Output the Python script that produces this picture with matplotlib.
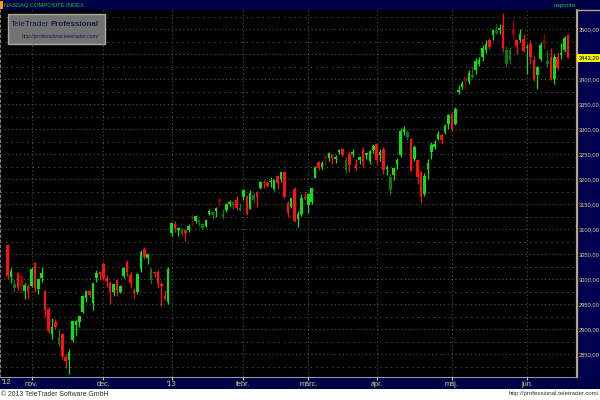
import matplotlib
matplotlib.use("Agg")
import matplotlib.pyplot as plt
import matplotlib.transforms as mtransforms
from matplotlib.patches import Rectangle
from matplotlib import font_manager
import numpy as np
import pandas as pd

# ---------------- data (NASDAQ Composite, daily OHLC) ----------------
holidays = ['2012-10-29', '2012-10-30', '2012-11-22', '2012-12-25', '2013-01-01',
            '2013-01-21', '2013-02-18', '2013-03-29', '2013-05-27']
dates = pd.bdate_range('2012-10-19', '2013-06-19', freq='C', holidays=holidays)

open_oct = [3068, 3005, 2983, 3012, 3007, 2976, 2987]
high_oct = [3070, 3023, 3001, 3015, 3009, 2993, 2990]
low_oct = [3000, 2993, 2975, 2978, 2975, 2961, 2960]
close_oct = [3005.62, 3016.96, 2990.46, 2981.70, 2986.12, 2987.95, 2977.23]

open_nov = [2987, 3032, 2980, 3003, 2977, 2941, 2890, 2915, 2871, 2890, 2845, 2838, 2878, 2908,
            2914, 2935, 2962, 2976, 2953, 3003, 3014]
high_nov = [3025, 3035, 3001, 3025, 2979, 2945, 2922, 2920, 2900, 2893, 2850, 2861, 2917, 2918,
            2927, 2968, 2978, 2980, 2992, 3018, 3016]
low_nov = [2985, 2975, 2970, 2995, 2925, 2893, 2880, 2900, 2866, 2840, 2822, 2811, 2875, 2888,
           2905, 2933, 2955, 2965, 2938, 2995, 2998]
close_nov = [3020.06, 2982.13, 2999.66, 3011.93, 2937.29, 2895.58, 2904.87, 2904.26, 2883.89,
             2846.81, 2836.94, 2853.13, 2916.07, 2916.68, 2926.55, 2966.85, 2976.78, 2967.79,
             2991.78, 3012.03, 3010.24]

open_dec = [3031, 3002, 2993, 2975, 2999, 2975, 3006, 3035, 3008, 2978, 2975, 3021, 3061, 3043,
            2998, 3015, 3015, 2991, 2966, 2955]
high_dec = [3034, 3008, 2997, 2992, 3000, 2988, 3025, 3038, 3015, 2983, 3012, 3058, 3064, 3051,
            3023, 3017, 3018, 2995, 2978, 3025]
low_dec = [2998, 2985, 2950, 2966, 2966, 2972, 3002, 3006, 2985, 2962, 2970, 3015, 3040, 3030,
           2990, 3005, 2982, 2946, 2958, 2950]
close_dec = [3002.20, 2996.69, 2973.70, 2989.27, 2978.04, 2986.96, 3022.30, 3013.81, 2992.16,
             2971.33, 3010.60, 3054.53, 3044.36, 3050.39, 3021.01, 3012.60, 2990.16, 2985.91,
             2960.31, 3019.51]

open_jan = [3092, 3110, 3098, 3090, 3098, 3098, 3127, 3116, 3114, 3102, 3106, 3130, 3128, 3137,
            3160, 3125, 3138, 3150, 3148, 3158, 3138]
high_jan = [3113, 3116, 3105, 3102, 3100, 3110, 3130, 3128, 3121, 3113, 3120, 3141, 3135, 3144,
            3162, 3140, 3152, 3158, 3157, 3166, 3152]
low_jan = [3086, 3094, 3086, 3086, 3076, 3094, 3106, 3112, 3107, 3098, 3105, 3128, 3121, 3125,
           3145, 3120, 3135, 3146, 3140, 3138, 3136]
close_jan = [3112.26, 3100.57, 3101.66, 3098.81, 3091.81, 3105.81, 3121.76, 3125.63, 3117.50,
             3110.78, 3117.54, 3136.00, 3134.71, 3143.18, 3153.67, 3130.38, 3149.71, 3154.30,
             3153.66, 3142.31, 3142.13]

open_feb = [3164, 3164, 3141, 3159, 3174, 3182, 3195, 3192, 3194, 3180, 3206, 3200, 3214, 3152,
            3145, 3181, 3121, 3130, 3165]
high_feb = [3181, 3168, 3178, 3172, 3176, 3196, 3198, 3197, 3204, 3201, 3208, 3214, 3217, 3157,
            3162, 3184, 3137, 3170, 3174]
low_feb = [3158, 3129, 3140, 3155, 3145, 3180, 3182, 3185, 3185, 3177, 3180, 3195, 3163, 3125,
           3142, 3115, 3105, 3127, 3158]
close_feb = [3179.10, 3131.17, 3171.58, 3168.48, 3165.13, 3193.87, 3192.00, 3186.49, 3196.88,
             3198.66, 3192.03, 3213.59, 3164.41, 3131.49, 3161.82, 3116.25, 3129.65, 3162.26,
             3160.19]

open_mar = [3148, 3155, 3202, 3235, 3224, 3247, 3242, 3249, 3241, 3255, 3261, 3218, 3251, 3251,
            3231, 3238, 3258, 3248, 3236, 3258]
high_mar = [3172, 3182, 3227, 3237, 3236, 3249, 3254, 3250, 3249, 3260, 3263, 3244, 3257, 3260,
            3240, 3247, 3264, 3253, 3258, 3270]
low_mar = [3132, 3151, 3202, 3218, 3220, 3229, 3236, 3230, 3233, 3250, 3245, 3212, 3214, 3245,
           3218, 3230, 3225, 3240, 3230, 3253]
close_mar = [3169.74, 3182.03, 3224.13, 3222.37, 3232.09, 3244.37, 3252.87, 3242.32, 3245.12,
             3258.93, 3249.07, 3237.59, 3229.10, 3254.19, 3222.60, 3245.00, 3235.30, 3252.48,
             3256.52, 3267.52]

open_apr = [3271, 3248, 3261, 3221, 3178, 3208, 3231, 3248, 3295, 3285, 3281, 3241, 3238, 3215,
            3171, 3221, 3255, 3265, 3281, 3288, 3295, 3311]
high_apr = [3272, 3261, 3264, 3229, 3210, 3224, 3243, 3303, 3306, 3299, 3283, 3268, 3240, 3216,
            3213, 3240, 3275, 3279, 3296, 3290, 3311, 3331]
low_apr = [3229, 3236, 3211, 3208, 3168, 3199, 3221, 3245, 3288, 3278, 3216, 3237, 3191, 3154,
           3166, 3200, 3240, 3260, 3278, 3271, 3290, 3300]
close_apr = [3239.17, 3254.86, 3218.60, 3224.98, 3203.86, 3222.25, 3237.86, 3297.25, 3300.16,
             3294.95, 3216.49, 3264.63, 3204.67, 3166.36, 3206.06, 3233.55, 3269.33, 3269.65,
             3289.99, 3279.26, 3307.02, 3328.79]

open_may = [3331, 3311, 3375, 3385, 3405, 3395, 3405, 3418, 3431, 3445, 3458, 3478, 3488, 3492,
            3498, 3508, 3431, 3438, 3501, 3478, 3478, 3481]
high_may = [3332, 3345, 3389, 3397, 3407, 3418, 3425, 3442, 3445, 3468, 3478, 3483, 3501, 3510,
            3511, 3532, 3466, 3465, 3518, 3481, 3500, 3490]
low_may = [3296, 3308, 3371, 3381, 3380, 3390, 3400, 3410, 3426, 3436, 3452, 3460, 3478, 3490,
           3490, 3455, 3425, 3430, 3480, 3450, 3475, 3455]
close_may = [3299.13, 3340.62, 3378.63, 3392.97, 3396.63, 3413.27, 3409.17, 3436.58, 3438.79,
             3462.61, 3471.62, 3465.24, 3498.97, 3496.71, 3502.12, 3463.30, 3459.42, 3459.14,
             3488.89, 3467.52, 3491.30, 3455.91]

open_jun = [3462, 3471, 3438, 3408, 3441, 3481, 3430, 3444, 3401, 3445, 3448, 3458, 3488]
high_jun = [3470, 3478, 3447, 3426, 3475, 3490, 3458, 3462, 3450, 3455, 3472, 3487, 3490]
low_jun = [3410, 3431, 3397, 3381, 3437, 3460, 3425, 3398, 3390, 3418, 3440, 3455, 3443]
close_jun = [3465.37, 3445.26, 3401.48, 3424.05, 3469.22, 3473.77, 3436.95, 3400.43, 3445.37,
             3423.56, 3452.13, 3482.18, 3443.20]

month_labels = ["nov.", "dec.", "'13", "febr.", "márc.", "ápr.", "máj.", "jún."]
start_label = "'12"
y_ticks = list(range(2850, 3501, 50))
title = "NASDAQ COMPOSITE INDEX"
period_text = "naponta"
copyright_text = "© 2013 TeleTrader Software GmbH"
url_text = "http://professional.teletrader.com/"

opens = np.array(open_oct + open_nov + open_dec + open_jan + open_feb + open_mar + open_apr + open_may + open_jun, float)
highs = np.array(high_oct + high_nov + high_dec + high_jan + high_feb + high_mar + high_apr + high_may + high_jun, float)
lows = np.array(low_oct + low_nov + low_dec + low_jan + low_feb + low_mar + low_apr + low_may + low_jun, float)
closes = np.array(close_oct + close_nov + close_dec + close_jan + close_feb + close_mar + close_apr + close_may + close_jun, float)
assert len(opens) == len(highs) == len(lows) == len(closes) == len(dates)

# ---------------- fonts ----------------
_names = {f.name for f in font_manager.fontManager.ttflist}
FONT = 'Liberation Sans Narrow' if 'Liberation Sans Narrow' in _names else 'Liberation Sans'

# ---------------- figure ----------------
W, H = 600, 400
fig = plt.figure(figsize=(6, 4), dpi=100, facecolor='white')
_renderer = fig.canvas.get_renderer()


def fit_size(s, target_px, max_size=9.0, **kw):
    t = fig.text(0, 0, s, fontsize=10, family=FONT, **kw)
    w = t.get_window_extent(_renderer).width
    t.remove()
    return min(max_size, 10 * target_px / w)


def px_rect(x0, y0, w, h):
    return [x0 / W, 1 - (y0 + h) / H, w / W, h / H]


NAVY = '#000046'
KHAKI = '#d6d08c'

bg = fig.add_axes([0, 0, 1, 1], zorder=0)
bg.set_xlim(0, W)
bg.set_ylim(H, 0)
bg.axis('off')
bg.add_patch(Rectangle((0, 0), W, 9.5, color=NAVY, lw=0))
bg.add_patch(Rectangle((577, 9), 23, 380, color='#000050', lw=0))
bg.add_patch(Rectangle((0, 377), W, 11.5, color=NAVY, lw=0))
bg.plot([577, 600], [10, 10], color='#b8a878', lw=1)
bg.plot([0, 577], [377.3, 377.3], color='#b8b8b8', lw=1.2)
bg.add_patch(Rectangle((0, 1), 3, 7.5, color='#ff9a00', lw=0))
bg.text(4.5, 5, title, color='#22c022', fontsize=fit_size(title, 80, 6.5), family=FONT,
        va='center', ha='left')
bg.text(576, 5, period_text, color='#22c022', fontsize=fit_size(period_text, 22, 6.5), family=FONT,
        va='center', ha='right')
bg.text(1, 394, copyright_text, color='#303030', fontsize=fit_size(copyright_text, 108, 6.5),
        family=FONT, va='center', ha='left')
bg.text(599, 394, url_text, color='#303030', fontsize=fit_size(url_text, 92, 6.5),
        family=FONT, va='center', ha='right')
month_fs = fit_size("nov.", 13.5, 6.5)
bg.text(1.5, 382.8, start_label, color=KHAKI, fontsize=month_fs, family=FONT, va='center', ha='left')

# ---------------- main axes ----------------
X0, STEP = 7.6, 3.417
ax = fig.add_axes(px_rect(0, 9.5, 577, 367.5), zorder=1)
ax.set_facecolor('black')
ax.set_xlim(-X0 / STEP, (577 - X0) / STEP)
ax.set_ylim(2804, 3540)

idx = np.arange(len(dates))
up = closes >= opens
prev = np.r_[opens[0], closes[:-1]]
agree = (closes >= prev) == up
BRIGHT_G, BRIGHT_R = '#10e010', '#ff1010'
DARK_G, DARK_R = '#0d7a0d', '#9a0000'
colors = np.where(up, np.where(agree, BRIGHT_G, DARK_G), np.where(agree, BRIGHT_R, DARK_R))

ax.vlines(idx, lows, highs, colors=colors, lw=0.9, zorder=3)
body_lo = np.minimum(opens, closes)
body_h = np.maximum(np.abs(closes - opens), 1.6)
ax.bar(idx, body_h, bottom=body_lo, width=0.75, color=colors, lw=0, zorder=4)

# month ticks
per = dates.to_period('M')
first = np.r_[True, per[1:] != per[:-1]]
month_idx = np.where(first)[0][1:]
ax.set_xticks(month_idx)
ax.set_xticklabels(month_labels, fontsize=month_fs, family=FONT, color=KHAKI)
ax.tick_params(axis='x', length=2, color='#c8c8c8', pad=0.6, direction='out')

last_close = closes[-1]
ytick_fs = fit_size("3500,00", 21.0, 6.0)
ax.yaxis.tick_right()
ax.set_yticks(y_ticks)
ax.set_yticklabels(["" if abs(v - last_close) < 12 else f"{v:.2f}".replace('.', ',') for v in y_ticks],
                   fontsize=ytick_fs, family=FONT, color=KHAKI)
ax.tick_params(axis='y', length=0, pad=1.4)
ax.set_yticks([v + 25 for v in y_ticks[:-1]] + [2825, 3525], minor=True)
ax.tick_params(axis='y', which='minor', length=0)

ax.grid(True, which='major', color='#2e6e2e', linestyle=(0, (1, 2.5)), lw=0.8, zorder=1)
ax.grid(True, which='minor', axis='y', color='#4c4c4c', linestyle=(0, (1.5, 4)), lw=0.7, zorder=1)

for s in ('top', 'bottom'):
    ax.spines[s].set_visible(False)
ax.spines['right'].set_color('#b8a878')
ax.spines['right'].set_linestyle((0, (1, 1)))
ax.spines['right'].set_linewidth(1.6)
ax.spines['left'].set_color('#9a9a9a')
ax.spines['left'].set_linestyle((0, (1, 2)))
ax.spines['left'].set_linewidth(1.2)

# last price label
trans = mtransforms.blended_transform_factory(ax.transAxes, ax.transData)
ax.text(1.003, last_close, f"{last_close:.2f}".replace('.', ','), transform=trans,
        fontsize=ytick_fs, family=FONT, color='black', va='center', ha='left', clip_on=False,
        zorder=10, bbox=dict(boxstyle='square,pad=0.25', fc='#f4f400', ec='none'))

# ---------------- logo overlay ----------------
fg = fig.add_axes([0, 0, 1, 1], zorder=5)
fg.set_xlim(0, W)
fg.set_ylim(H, 0)
fg.axis('off')
fg.patch.set_alpha(0)
fg.add_patch(Rectangle((7.5, 14), 97, 30, facecolor='#737373', edgecolor='#a8a8a8', lw=1))
LOGO_C = '#101c48'
logo_fs = fit_size("TeleTrader Professional", 90, 8.8, weight='bold')
t1 = fg.text(11, 25, "TeleTrader", color=LOGO_C, fontsize=logo_fs, family=FONT,
             va='center', ha='left')
w1 = t1.get_window_extent(_renderer).width
fg.text(11 + w1 + 1.5, 25, "Professional", color=LOGO_C, fontsize=logo_fs, family=FONT,
        weight='bold', va='center', ha='left')
fg.text(99, 36.5, url_text, color=LOGO_C, fontsize=fit_size(url_text, 78, 5.5, style='italic'),
        family=FONT, style='italic', va='center', ha='right')

fig.savefig('out.png', dpi=100, facecolor='white')
